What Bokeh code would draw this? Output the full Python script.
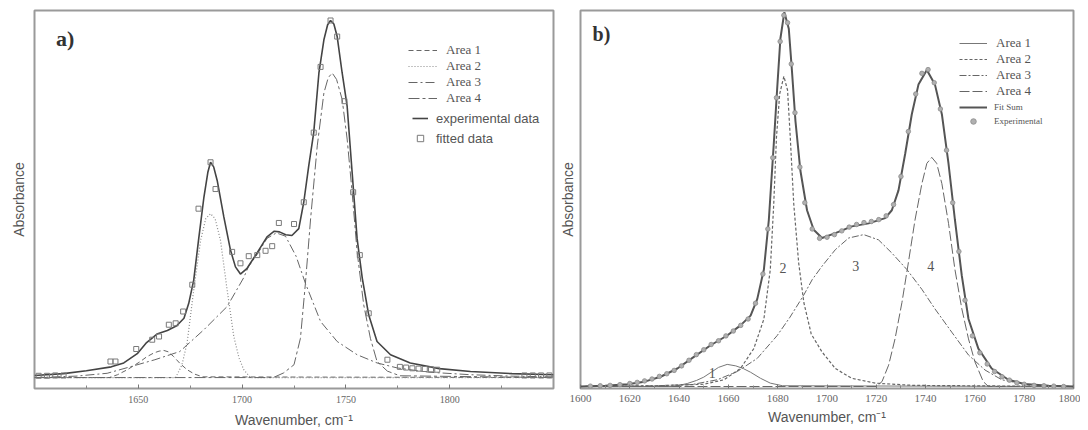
from bokeh.plotting import figure
from bokeh.layouts import row
from bokeh.models import Range1d, FixedTicker, Legend, LegendItem, Label
from bokeh.embed import file_html
from bokeh.resources import INLINE

# ---------------- Panel a data ----------------
a_sum_x = [1600, 1614, 1625, 1637, 1643, 1649.5, 1654, 1659, 1664, 1668.5, 1672, 1674.3, 1676.7, 1679,
           1681.6, 1683.5, 1684.8, 1686.3, 1688, 1691.2, 1694.4, 1696.8, 1699.2, 1702.4, 1707.3, 1712,
           1715.5, 1718, 1721, 1724, 1727.3, 1729.7, 1732.1, 1734.5, 1737, 1739.4, 1741.2, 1742.6, 1744.2,
           1745.8, 1748.2, 1750.6, 1753, 1755.4, 1757.9, 1761, 1765, 1771.5, 1781, 1795, 1810, 1830, 1850]
a_sum_y = [0.006, 0.011, 0.019, 0.030, 0.041, 0.067, 0.098, 0.122, 0.132, 0.145, 0.166, 0.208, 0.273, 0.384,
           0.505, 0.575, 0.603, 0.590, 0.552, 0.450, 0.357, 0.310, 0.290, 0.306, 0.350, 0.394,
           0.410, 0.408, 0.400, 0.398, 0.417, 0.491, 0.593, 0.686, 0.853, 0.946, 0.988, 1.000, 0.990,
           0.955, 0.853, 0.760, 0.575, 0.389, 0.278, 0.175, 0.101, 0.064, 0.041, 0.025, 0.017, 0.011, 0.008]

a_area1_x = [1600, 1636, 1640, 1644.7, 1648, 1651, 1654, 1657.5, 1660, 1662.3, 1664.5, 1667, 1670, 1673.5, 1677, 1681, 1850]
a_area1_y = [0, 0, 0.008, 0.022, 0.034, 0.045, 0.058, 0.069, 0.074, 0.076, 0.072, 0.059, 0.040, 0.022, 0.010, 0.002, 0]

a_area2_x = [1600, 1668, 1671, 1673.5, 1676.7, 1680, 1682.5, 1684.8, 1687, 1689.6, 1692.8, 1696, 1698.5, 1700.8, 1704, 1850]
a_area2_y = [0, 0, 0.035, 0.097, 0.245, 0.384, 0.445, 0.459, 0.445, 0.384, 0.245, 0.115, 0.055, 0.022, 0, 0]

a_area3_x = [1600, 1620, 1635, 1646, 1658, 1670, 1681.6, 1692.8, 1700.8, 1703, 1707.3, 1712, 1716.5, 1720.9,
             1726, 1730.5, 1737.8, 1745.8, 1755.4, 1765, 1774.7, 1790, 1810, 1830, 1850]
a_area3_y = [0, 0.004, 0.012, 0.030, 0.050, 0.073, 0.134, 0.199, 0.280, 0.310, 0.345, 0.390, 0.405, 0.396,
             0.340, 0.264, 0.157, 0.101, 0.064, 0.041, 0.027, 0.015, 0.008, 0.004, 0.002]

a_area4_x = [1600, 1715, 1720, 1725, 1728.1, 1730.5, 1733, 1736.2, 1739.4, 1741.5, 1743.4, 1745.5, 1748.2,
             1750.6, 1753, 1755.4, 1758.6, 1761.8, 1765, 1770, 1776, 1850]
a_area4_y = [0, 0, 0.013, 0.036, 0.110, 0.264, 0.445, 0.649, 0.797, 0.840, 0.853, 0.835, 0.779,
             0.668, 0.519, 0.352, 0.203, 0.110, 0.045, 0.018, 0.005, 0]

a_fit_x = [1602, 1606, 1610, 1614, 1636.6, 1639, 1649, 1656.7, 1660, 1664.7, 1668, 1671.6, 1676, 1679,
           1684.8, 1687.2, 1695.2, 1699.2, 1703.2, 1707.3, 1711.3, 1714.5, 1717.7, 1725, 1729.7, 1734.5,
           1737.8, 1742.6, 1745.8, 1749.3, 1753.5, 1756.7, 1761, 1770, 1776, 1779, 1782, 1785, 1788,
           1791, 1794, 1836, 1840, 1844, 1848]
a_fit_y = [0.005, 0.005, 0.006, 0.006, 0.045, 0.045, 0.080, 0.106, 0.115, 0.148, 0.152, 0.185, 0.260, 0.473,
           0.603, 0.528, 0.352, 0.320, 0.340, 0.343, 0.355, 0.368, 0.433, 0.430, 0.491, 0.686,
           0.870, 1.000, 0.955, 0.774, 0.519, 0.343, 0.180, 0.050, 0.030, 0.028, 0.026, 0.025, 0.024,
           0.023, 0.022, 0.006, 0.006, 0.006, 0.006]

a_major_ticks = [1650, 1700, 1750, 1800]
a_minor_ticks = [1625, 1675, 1725, 1775, 1825]

# ---------------- Panel b data ----------------
b_sum_x = [1600, 1610, 1619, 1626, 1632.5, 1639.3, 1646, 1652.8, 1659.5, 1664.9, 1669, 1671.7, 1674.4, 1676.4,
           1678.4, 1679.8, 1681.1, 1682.7, 1684.5, 1685.8, 1687.2, 1689.2, 1691.9, 1694.6, 1698, 1703.4,
           1710.1, 1716.9, 1723.6, 1726.3, 1729, 1731.7, 1734.4, 1737.1, 1740.5, 1743.8, 1746.6, 1749.3,
           1751.9, 1754.7, 1757.4, 1761.4, 1766.8, 1773.6, 1780, 1790, 1800]
b_sum_y = [0.0, 0.002, 0.006, 0.013, 0.026, 0.048, 0.079, 0.110, 0.136, 0.163, 0.189, 0.233, 0.312, 0.444,
           0.646, 0.796, 0.928, 0.998, 0.954, 0.840, 0.708, 0.576, 0.470, 0.418, 0.396, 0.409,
           0.427, 0.435, 0.449, 0.470, 0.523, 0.620, 0.726, 0.805, 0.844, 0.805, 0.726, 0.594,
           0.444, 0.295, 0.180, 0.101, 0.048, 0.018, 0.007, 0.002, 0.0]

b_area1_x = [1600, 1638, 1643.3, 1647, 1650, 1653, 1656, 1659.5, 1663, 1666, 1669, 1673, 1677, 1682, 1800]
b_area1_y = [0, 0, 0.008, 0.016, 0.025, 0.038, 0.051, 0.059, 0.055, 0.048, 0.038, 0.022, 0.009, 0.002, 0]

b_area2_x = [1600, 1630, 1640, 1650, 1658.2, 1664.9, 1670.3, 1674.4, 1677, 1678.4, 1679.5, 1680.8, 1682.5,
             1684, 1685.1, 1686.5, 1688.5, 1690.6, 1693.6, 1698, 1703.4, 1710, 1719.6, 1735, 1800]
b_area2_y = [0, 0.002, 0.004, 0.006, 0.018, 0.048, 0.101, 0.180, 0.312, 0.488, 0.664, 0.780, 0.827,
             0.790, 0.664, 0.488, 0.330, 0.224, 0.140, 0.092, 0.048, 0.022, 0.009, 0.003, 0]

b_area3_x = [1600, 1630, 1645, 1655.5, 1663.6, 1671.7, 1679.8, 1685, 1690.5, 1694, 1698, 1703.4, 1708.8,
             1714.9, 1720.9, 1726.3, 1732.4, 1738.5, 1743.8, 1750.6, 1757.4, 1764.1, 1770.9, 1781, 1790, 1800]
b_area3_y = [0, 0.002, 0.005, 0.018, 0.040, 0.075, 0.136, 0.185, 0.243, 0.285, 0.321, 0.365, 0.396,
             0.405, 0.391, 0.356, 0.312, 0.259, 0.207, 0.145, 0.084, 0.044, 0.018, 0.005, 0.001, 0]

b_area4_x = [1600, 1720, 1722.3, 1725, 1727.6, 1730.4, 1733, 1735.7, 1738.5, 1740.5, 1742.5, 1744.5, 1746.6,
             1749.3, 1751.9, 1754.7, 1757.4, 1760, 1763.4, 1765.5, 1800]
b_area4_y = [0, 0, 0.013, 0.057, 0.127, 0.224, 0.330, 0.444, 0.541, 0.595, 0.611, 0.595, 0.541,
             0.435, 0.312, 0.207, 0.127, 0.066, 0.013, 0, 0]

b_exp_x = [1604, 1608, 1612, 1616, 1620, 1623, 1626, 1629, 1632, 1635, 1638, 1641, 1644, 1647, 1650, 1653,
           1656, 1659, 1662, 1665, 1668, 1671, 1674, 1676, 1678, 1679.5, 1681, 1682.5, 1684, 1685.5, 1687,
           1689, 1691, 1694, 1697, 1700, 1703, 1706, 1709, 1712, 1715, 1718, 1721, 1724, 1727, 1730, 1733,
           1736, 1738.5, 1741, 1743.5, 1746, 1748.5, 1751, 1753.5, 1756, 1759, 1762, 1765, 1768, 1771,
           1774, 1777, 1780, 1784, 1788, 1792, 1796]
b_exp_y = [0.001, 0.002, 0.003, 0.005, 0.008, 0.011, 0.015, 0.020, 0.027, 0.034, 0.043, 0.055, 0.070, 0.085,
           0.098, 0.112, 0.122, 0.135, 0.148, 0.163, 0.180, 0.222, 0.300, 0.420, 0.610, 0.770, 0.920, 0.990,
           0.970, 0.860, 0.730, 0.585, 0.490, 0.420, 0.395, 0.398, 0.405, 0.415, 0.425, 0.432, 0.437, 0.440,
           0.445, 0.455, 0.485, 0.560, 0.680, 0.780, 0.835, 0.845, 0.810, 0.740, 0.630, 0.490, 0.360, 0.230,
           0.135, 0.090, 0.060, 0.040, 0.026, 0.017, 0.010, 0.006, 0.003, 0.002, 0.001, 0.0]

b_major_ticks = [1600, 1620, 1640, 1660, 1680, 1700, 1720, 1740, 1760, 1780, 1800]
b_minor_ticks = [1610, 1630, 1650, 1670, 1690, 1710, 1730, 1750, 1770, 1790]

b_peak_labels = ["1", "2", "3", "4"]
b_peak_label_x = [1653.4, 1682.2, 1711.7, 1742.1]
b_peak_label_y = [0.035, 0.316, 0.321, 0.321]

SERIF = "Liberation Serif"
SANS = "Liberation Sans"


def style(p, tick_size):
    p.xgrid.visible = False
    p.ygrid.visible = False
    p.outline_line_color = "#9a9a9a"
    p.outline_line_width = 2
    p.background_fill_color = "white"
    p.border_fill_color = "white"
    ax = p.xaxis[0]
    ax.axis_line_color = None
    ax.major_tick_in = 4
    ax.major_tick_out = 0
    ax.minor_tick_in = 3
    ax.minor_tick_out = 0
    ax.major_tick_line_color = "#777777"
    ax.minor_tick_line_color = "#888888"
    ax.major_label_text_font = SERIF
    ax.major_label_text_font_size = tick_size
    ax.major_label_text_color = "#666666"
    ax.axis_label = "Wavenumber, cm\u207b\u00b9"
    ax.axis_label_text_font = SANS
    ax.axis_label_text_font_style = "normal"
    ax.axis_label_text_font_size = "14px"
    ax.axis_label_text_color = "#555555"
    ay = p.yaxis[0]
    ay.ticker = FixedTicker(ticks=[])
    ay.axis_line_color = None
    ay.major_tick_out = 0
    ay.major_tick_in = 0
    ay.minor_tick_out = 0
    ay.major_label_text_font_size = "0px"
    ay.axis_label = "Absorbance"
    ay.axis_label_text_font = SANS
    ay.axis_label_text_font_style = "normal"
    ay.axis_label_text_font_size = "14px"
    ay.axis_label_text_color = "#555555"


# ---------------- Panel a figure ----------------
pa = figure(width=556, height=430, output_backend="svg", toolbar_location=None,
            x_range=Range1d(1600, 1850), y_range=Range1d(-0.0306, 1.028),
            min_border_left=34, min_border_right=3, min_border_top=9, min_border_bottom=41)
style(pa, "10px")
pa.xaxis[0].ticker = FixedTicker(ticks=a_major_ticks, minor_ticks=a_minor_ticks)
pa.xaxis[0].major_label_standoff = 7
pa.xaxis[0].axis_label_standoff = 6
pa.yaxis[0].axis_label_standoff = 8

ra1 = pa.line(a_area1_x, a_area1_y, line_color="#666666", line_width=1, line_dash="5 3")
ra2 = pa.line(a_area2_x, a_area2_y, line_color="#8a8a8a", line_width=1.2, line_dash="1 2")
ra3 = pa.line(a_area3_x, a_area3_y, line_color="#666666", line_width=1, line_dash="9 3 2 3")
ra4 = pa.line(a_area4_x, a_area4_y, line_color="#666666", line_width=1, line_dash="11 3 3 3")
rasum = pa.line(a_sum_x, a_sum_y, line_color="#444444", line_width=1.6)
rafit = pa.scatter(a_fit_x, a_fit_y, marker="square", size=5, line_color="#7a7a7a",
                   fill_color=None, line_width=1)

pa.add_layout(Label(x=1610.3, y=0.95, text="a)", text_font=SERIF, text_font_size="22px",
                    text_font_style="bold", text_color="#333333", text_baseline="middle",
                    text_align="left"))

leg_a1 = Legend(items=[LegendItem(label="Area 1", renderers=[ra1]),
                       LegendItem(label="Area 2", renderers=[ra2]),
                       LegendItem(label="Area 3", renderers=[ra3]),
                       LegendItem(label="Area 4", renderers=[ra4])],
                location=(374, 282), padding=0, margin=0, spacing=0,
                label_height=16, glyph_height=16, glyph_width=29, label_standoff=9,
                label_text_font=SERIF, label_text_font_size="13px", label_text_color="#555555",
                border_line_color=None, background_fill_alpha=0)
leg_a2 = Legend(items=[LegendItem(label="experimental data", renderers=[rasum]),
                       LegendItem(label="fitted data", renderers=[rafit])],
                location=(378, 242), padding=0, margin=0, spacing=4,
                label_height=16, glyph_height=16, glyph_width=16, label_standoff=8,
                label_text_font=SANS, label_text_font_size="13px", label_text_color="#555555",
                border_line_color=None, background_fill_alpha=0)
pa.add_layout(leg_a1, "center")
pa.add_layout(leg_a2, "center")

# ---------------- Panel b figure ----------------
pb = figure(width=524, height=430, output_backend="svg", toolbar_location=None,
            x_range=Range1d(1600, 1800), y_range=Range1d(-0.0053, 1.0026),
            min_border_left=22, min_border_right=7, min_border_top=10, min_border_bottom=38)
style(pb, "11px")
pb.xaxis[0].ticker = FixedTicker(ticks=b_major_ticks, minor_ticks=b_minor_ticks)
pb.xaxis[0].major_label_standoff = 6
pb.xaxis[0].axis_label_standoff = 4
pb.yaxis[0].axis_label_standoff = 5

rb1 = pb.line(b_area1_x, b_area1_y, line_color="#777777", line_width=1)
rb2 = pb.line(b_area2_x, b_area2_y, line_color="#666666", line_width=1.2, line_dash="3 2")
rb3 = pb.line(b_area3_x, b_area3_y, line_color="#666666", line_width=1, line_dash="7 2 2 2")
rb4 = pb.line(b_area4_x, b_area4_y, line_color="#666666", line_width=1, line_dash="10 3")
rbsum = pb.line(b_sum_x, b_sum_y, line_color="#555555", line_width=2)
rbexp = pb.scatter(b_exp_x, b_exp_y, marker="circle", size=4.5, fill_color="#b0b0b0",
                   line_color="#8a8a8a", line_width=0.8)

pb.text(x=b_peak_label_x, y=b_peak_label_y, text=b_peak_labels, text_font=SERIF,
        text_font_size="14px", text_color="#555555", text_align="center", text_baseline="middle")

pb.add_layout(Label(x=1604.9, y=0.941, text="b)", text_font=SERIF, text_font_size="20px",
                    text_font_style="bold", text_color="#333333", text_baseline="middle",
                    text_align="left"))

leg_b1 = Legend(items=[LegendItem(label="Area 1", renderers=[rb1]),
                       LegendItem(label="Area 2", renderers=[rb2]),
                       LegendItem(label="Area 3", renderers=[rb3]),
                       LegendItem(label="Area 4", renderers=[rb4])],
                location=(379, 289), padding=0, margin=0, spacing=0,
                label_height=16, glyph_height=16, glyph_width=28, label_standoff=9,
                label_text_font=SERIF, label_text_font_size="13px", label_text_color="#555555",
                border_line_color=None, background_fill_alpha=0)
leg_b2 = Legend(items=[LegendItem(label="Fit Sum", renderers=[rbsum]),
                       LegendItem(label="Experimental", renderers=[rbexp])],
                location=(379, 260), padding=0, margin=0, spacing=0,
                label_height=14, glyph_height=14, glyph_width=28, label_standoff=7,
                label_text_font=SERIF, label_text_font_size="9px", label_text_color="#555555",
                border_line_color=None, background_fill_alpha=0)
pb.add_layout(leg_b1, "center")
pb.add_layout(leg_b2, "center")

layout = row(pa, pb)
open("out.html", "w").write(file_html(layout, INLINE))
